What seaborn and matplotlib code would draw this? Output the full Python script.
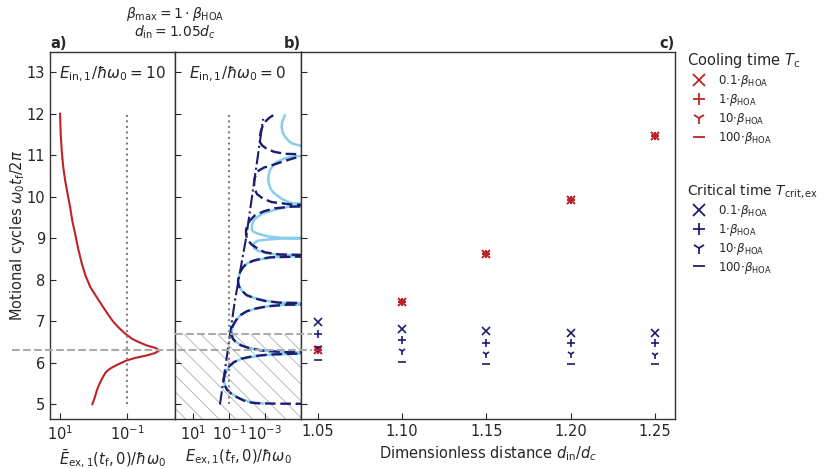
import numpy as np
import matplotlib
matplotlib.use("Agg")
import matplotlib.pyplot as plt
from matplotlib.lines import Line2D
import seaborn as sns

# ---- panel a: mean excitation energy (log10) vs motional cycles ----
t_a = [5.0, 5.15, 5.34, 5.5, 5.66, 5.78, 5.86, 5.96, 6.06, 6.12, 6.18, 6.24, 6.3,
       6.36, 6.42, 6.5, 6.58, 6.7, 6.85, 7.0, 7.17, 7.34, 7.6, 7.83, 8.1, 8.39,
       8.75, 9.11, 9.4, 9.75, 10.05, 10.4, 10.75, 11.12, 11.5, 12.0]
logE_a = [0.04, -0.03, -0.1, -0.18, -0.28, -0.37, -0.49, -0.72, -0.99, -1.25,
          -1.59, -1.85, -1.96, -1.85, -1.59, -1.35, -1.15, -0.95, -0.75, -0.58,
          -0.43, -0.29, -0.08, 0.10, 0.24, 0.35, 0.46, 0.55, 0.63, 0.70, 0.77,
          0.85, 0.91, 0.95, 0.98, 1.0]

# ---- panel b: excitation energy (log10), full simulation (light blue) ----
t_b = [5.02, 5.06, 5.12, 5.18, 5.26, 5.36, 5.48, 5.6, 5.75, 5.9, 6.02, 6.1, 6.18,
       6.21, 6.23, 6.26, 6.30, 6.36, 6.42, 6.5, 6.58, 6.70, 6.8, 6.9, 7.02, 7.14,
       7.24, 7.30, 7.36, 7.39, 7.42, 7.45, 7.49, 7.55, 7.63, 7.75, 7.85, 7.95,
       8.07, 8.19, 8.30, 8.39, 8.46, 8.50, 8.54, 8.56, 8.58, 8.60, 8.63, 8.70,
       8.76, 8.82, 8.88, 8.94, 8.97, 8.99, 9.0, 9.01, 9.04, 9.11, 9.16, 9.22,
       9.32, 9.42, 9.52, 9.60, 9.69, 9.76, 9.80, 9.84, 9.94, 10.1, 10.2, 10.31,
       10.42, 10.52, 10.62, 10.72, 10.82, 10.92, 10.97, 11.0, 11.1, 11.19, 11.22,
       11.28, 11.35, 11.45, 11.55, 11.67, 11.79, 11.9, 11.96]
logE_b = [-2.9, -2.17, -1.75, -1.45, -1.15, -0.9, -0.76, -0.72, -0.8, -0.98, -1.3,
          -1.7, -2.8, -3.8, -7, -3.8, -2.8, -2.1, -1.7, -1.4, -1.24, -1.15, -1.17,
          -1.24, -1.4, -1.61, -2.0, -2.44, -3.1, -3.8, -7, -3.8, -3.1, -2.5, -2.0,
          -1.7, -1.56, -1.52, -1.55, -1.63, -1.8, -2.0, -2.4, -2.82, -3.4, -3.93,
          -7, -3.9, -3.2, -2.6, -2.4, -2.35, -2.4, -2.6, -3.2, -3.9, -7, -3.9,
          -3.2, -2.6, -2.35, -2.26, -2.28, -2.36, -2.6, -2.9, -3.6, -4.3, -7,
          -4.5, -3.95, -3.46, -3.3, -3.22, -3.18, -3.2, -3.26, -3.4, -3.6, -4.1,
          -4.6, -7, -6, -7, -5.0, -4.5, -4.3, -4.1, -3.98, -3.93, -3.95, -4.05,
          -4.11]

# ---- panel b: approximate model (navy dashed) ----
t_m = [5.01, 5.02, 5.03, 5.06, 5.12, 5.18, 5.26, 5.36, 5.48, 5.6, 5.75, 5.9, 6.02,
       6.1, 6.16, 6.2, 6.22, 6.24, 6.26, 6.3, 6.36, 6.42, 6.5, 6.58, 6.7, 6.8,
       6.9, 7.02, 7.14, 7.24, 7.3, 7.36, 7.4, 7.42, 7.45, 7.49, 7.55, 7.63, 7.75,
       7.85, 7.95, 8.07, 8.19, 8.3, 8.39, 8.46, 8.5, 8.54, 8.58, 8.61, 8.66,
       8.74, 8.85, 8.98, 9.1, 9.2, 9.3, 9.42, 9.55, 9.65, 9.72, 9.76, 9.78,
       9.81, 9.87, 9.95, 10.06, 10.16, 10.26, 10.36, 10.46, 10.55, 10.62, 10.7,
       10.78, 10.86, 10.95, 11.0, 11.03, 11.08, 11.15, 11.23, 11.31, 11.45,
       11.59, 11.71, 11.82, 11.9, 11.96]
logE_m = [-7, -3.5, -2.5, -2.0, -1.7, -1.42, -1.12, -0.88, -0.74, -0.7, -0.78,
          -0.96, -1.28, -1.68, -2.3, -3.2, -4.5, -7, -4.0, -2.8, -2.1, -1.68,
          -1.38, -1.22, -1.13, -1.15, -1.22, -1.38, -1.6, -1.98, -2.4, -3.1, -4.2,
          -7, -3.8, -3.0, -2.45, -1.98, -1.68, -1.55, -1.5, -1.53, -1.62, -1.78,
          -1.98, -2.35, -2.75, -3.3, -7, -3.8, -3.0, -2.63, -2.25, -2.0, -1.95,
          -1.95, -2.0, -2.15, -2.44, -2.95, -3.56, -4.5, -7, -4.5, -3.37, -2.9,
          -2.56, -2.45, -2.4, -2.4, -2.44, -2.52, -2.63, -2.95, -3.56, -4.1, -4.8,
          -7, -4.1, -3.5, -3.1, -2.85, -2.72, -2.72, -2.78, -2.88, -3.05, -3.25,
          -3.46]

# ---- panel b: envelope (dash-dot) ----
t_env = [5.0, 7.5, 9.0, 11.87]
logE_env = [-0.5, -1.33, -1.95, -2.9]

# ---- panel c ----
d_in = [1.05, 1.10, 1.15, 1.20, 1.25]
t_cool = [6.32, 7.46, 8.61, 9.92, 11.47]
t_crit = {
    "0.1": [6.98, 6.82, 6.76, 6.73, 6.72],
    "1": [6.69, 6.56, 6.49, 6.48, 6.47],
    "10": [6.35, 6.28, 6.22, 6.21, 6.20],
    "100": [6.08, 6.02, 5.98, 5.97, 5.97],
}
betas = ["0.1", "1", "10", "100"]
markers = ["x", "+", "1", "_"]

red = "#bd2226"
navy = "#1c1c72"
lblue = "#87ceeb"

sns.set_style("ticks", {"xtick.direction": "in", "ytick.direction": "in"})
plt.rcParams["hatch.linewidth"] = 0.6
plt.rcParams["axes.linewidth"] = 1.0

fig = plt.figure(figsize=(8.3, 4.69), dpi=100)
bot, h = 0.1066, 0.7825
ax_a = fig.add_axes([0.0602, bot, 0.1506, h])
ax_b = fig.add_axes([0.2108, bot, 0.1518, h])
ax_c = fig.add_axes([0.3626, bot, 0.4506, h])
ylim = (4.65, 13.48)

# panel a
sns.lineplot(x=10 ** np.array(logE_a), y=t_a, sort=False, estimator=None,
             ax=ax_a, color=red, lw=1.5)
ax_a.plot([0.1, 0.1], [5, 12], ls=":", color="gray", lw=1.5)
ax_a.set_xscale("log")
ax_a.set_xlim(20, 0.0037)
ax_a.set_xticks([10, 0.1])
ax_a.minorticks_off()
ax_a.set_ylim(*ylim)
ax_a.set_yticks(range(5, 14))
ax_a.text(0.5, 0.965, r"$E_{\rm in,1}/\hbar\omega_0 = 10$", transform=ax_a.transAxes,
          ha="center", va="top", fontsize=11)
ax_a.set_xlabel(r"$\bar{E}_{\rm ex,1}(t_{\rm f},0)/\hbar\omega_0$", fontsize=10.5)
ax_a.set_ylabel(r"Motional cycles $\omega_0 t_{\rm f}/2\pi$", fontsize=10.5)
ax_a.yaxis.set_label_coords(-0.18, 0.5)
ax_a.set_title("a)", loc="left", fontweight="bold", fontsize=10.5, pad=3)

# panel b
ax_b.axhspan(ylim[0], 6.7, facecolor="none", edgecolor="#b0b0b0", hatch="\\\\",
             linewidth=0, zorder=0)
sns.lineplot(x=10 ** np.array(logE_b), y=t_b, sort=False, estimator=None,
             ax=ax_b, color=lblue, lw=1.8)
sns.lineplot(x=10 ** np.array(logE_m), y=t_m, sort=False, estimator=None,
             ax=ax_b, color=navy, lw=1.7, linestyle=(0, (4.5, 2)))
sns.lineplot(x=10 ** np.array(logE_env), y=t_env, sort=False, estimator=None,
             ax=ax_b, color=navy, lw=1.5, linestyle="-.")
ax_b.plot([0.1, 0.1], [5, 12], ls=":", color="gray", lw=1.5)
ax_b.set_xscale("log")
ax_b.set_xlim(1e2, 1e-5)
ax_b.set_xticks([10, 0.1, 1e-3, 1e-5])
ax_b.set_xticklabels([r"$10^{1}$", r"$10^{-1}$", r"$10^{-3}$", ""])
ax_b.minorticks_off()
ax_b.set_ylim(*ylim)
ax_b.set_yticks(range(5, 14))
ax_b.set_yticklabels([])
ax_b.text(0.5, 0.965, r"$E_{\rm in,1}/\hbar\omega_0 = 0$", transform=ax_b.transAxes,
          ha="center", va="top", fontsize=11)
ax_b.set_xlabel(r"$E_{\rm ex,1}(t_{\rm f},0)/\hbar\omega_0$", fontsize=10.5)
ax_b.set_title("b)", loc="right", fontweight="bold", fontsize=10.5, pad=3)

# panel c
for b, m in zip(betas, markers):
    ax_c.plot(d_in, t_cool, ls="none", marker=m, color=red, ms=6, mew=1.4)
    ax_c.plot(d_in, t_crit[b], ls="none", marker=m, color=navy, ms=6, mew=1.2)
ax_c.set_xlim(1.04, 1.262)
ax_c.set_xticks(d_in)
ax_c.set_ylim(*ylim)
ax_c.set_yticks(range(5, 14))
ax_c.set_yticklabels([])
ax_c.set_xlabel(r"Dimensionless distance $d_{\rm in}/d_c$", fontsize=10.5)
ax_c.set_title("c)", loc="right", fontweight="bold", fontsize=10.5, pad=3)

# connecting guide lines
ax_c.axhline(6.3, xmin=-0.773, xmax=0.029, ls="--", color="#aaaaaa", lw=1.5,
             clip_on=False, zorder=5)
ax_c.axhline(6.7, xmin=-0.337, xmax=0.029, ls="--", color="#aaaaaa", lw=1.5,
             clip_on=False, zorder=5)

for ax in (ax_a, ax_b, ax_c):
    ax.tick_params(labelsize=10.5, length=4)
    for s in ax.spines.values():
        s.set_color("#333333")

fig.text(0.211, 0.970, r"$\beta_{\max} = 1\cdot\beta_{\rm HOA}$", ha="center",
         va="center", fontsize=10)
fig.text(0.211, 0.932, r"$d_{\rm in} = 1.05d_c$", ha="center", va="center",
         fontsize=10)

# legends
lab = [b + r"$\cdot\beta_{\rm HOA}$" for b in betas]
h1 = [Line2D([], [], ls="none", marker=m, color=red, ms=9, mew=1.3) for m in markers]
h2 = [Line2D([], [], ls="none", marker=m, color=navy, ms=9, mew=1.3) for m in markers]
fig.legend(h1, lab, title=r"Cooling time $T_{\rm c}$", loc="upper left",
           bbox_to_anchor=(0.815, 0.913), frameon=False, fontsize=8.5,
           title_fontsize=10.5, alignment="left", labelspacing=0.25,
           handletextpad=0.6)
fig.legend(h2, lab, title=r"Critical time $T_{\rm crit,ex}$", loc="upper left",
           bbox_to_anchor=(0.815, 0.635), frameon=False, fontsize=8.5,
           title_fontsize=10, alignment="left", labelspacing=0.25,
           handletextpad=0.6)

fig.savefig("out.png", dpi=100)
